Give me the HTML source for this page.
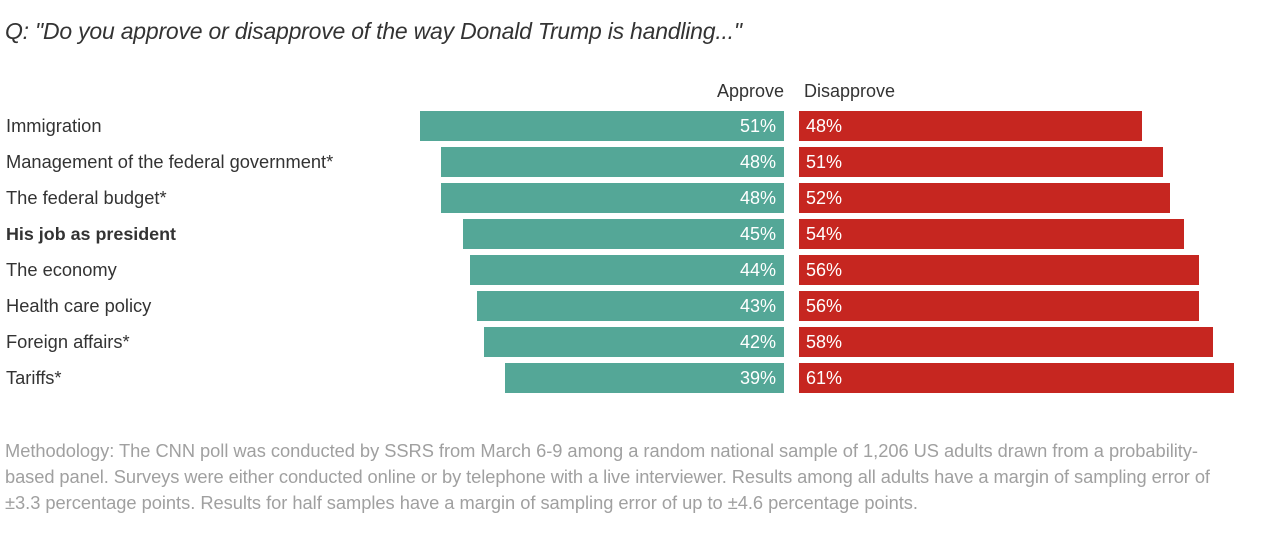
<!DOCTYPE html>
<html lang="en">
<head>
<meta charset="utf-8">
<title>Trump approval by issue</title>
<style>
html,body{margin:0;padding:0;background:#fff;width:1275px;height:541px;overflow:hidden}
svg{display:block;font-family:"Liberation Sans",sans-serif}
.lab{font-size:18.3px;fill:#333}
.head{font-size:18px;fill:#333}
.val{font-size:18px;fill:#fff}
.note{font-size:18.3px;fill:#a0a0a0}
</style>
</head>
<body>
<svg id="chart" width="1275" height="541" viewBox="0 0 1275 541" xmlns="http://www.w3.org/2000/svg">
<text x="5" y="39" font-size="23px" font-style="italic" fill="#333" textLength="737" lengthAdjust="spacing">Q: "Do you approve or disapprove of the way Donald Trump is handling..."</text>
<text class="head" x="784" y="97" text-anchor="end">Approve</text>
<text class="head" x="804" y="97">Disapprove</text>
<g id="rows"></g>
<text class="note" x="5" y="457" textLength="1193" lengthAdjust="spacing">Methodology: The CNN poll was conducted by SSRS from March 6-9 among a random national sample of 1,206 US adults drawn from a probability-</text>
<text class="note" x="5" y="483" textLength="1205" lengthAdjust="spacing">based panel. Surveys were either conducted online or by telephone with a live interviewer. Results among all adults have a margin of sampling error of</text>
<text class="note" x="5" y="509" textLength="913" lengthAdjust="spacing">±3.3 percentage points. Results for half samples have a margin of sampling error of up to ±4.6 percentage points.</text>
</svg>
<script>
const categories = ["Immigration","Management of the federal government*","The federal budget*","His job as president","The economy","Health care policy","Foreign affairs*","Tariffs*"];
const approve = [51,48,48,45,44,43,42,39];
const disapprove = [48,51,52,54,56,56,58,61];
const emphasized = ["His job as president"];

const NS = "http://www.w3.org/2000/svg";
const rows = document.getElementById("rows");
const unit = 7.14;
const approveBase = 784;
const disapproveBase = 799;
const rowTop = i => 111 + i * 36;
const approveLength = v => Math.round(v * unit + 0.1);
const disapproveLength = v => Math.round(v * unit - 0.1);

function make(tag, attrs, text) {
  const el = document.createElementNS(NS, tag);
  for (const k in attrs) el.setAttribute(k, attrs[k]);
  if (text !== undefined) el.textContent = text;
  rows.appendChild(el);
  return el;
}

categories.forEach((name, i) => {
  const y = rowTop(i);
  const bold = emphasized.includes(name);

  const label = make("text", {class: "lab", x: 6, y: y + 21, "font-weight": bold ? "bold" : "normal"}, name);
  if (bold) label.style.fontSize = "17.9px";
  
  

  const aw = approveLength(approve[i]);
  const aBar = make("rect", {x: approveBase - aw, y: y, width: aw, height: 30, fill: "#54a797"});
  
  

  const aVal = make("text", {class: "val", x: approveBase - 8, y: y + 21, "text-anchor": "end"}, approve[i] + "%");
  
  

  const dw = disapproveLength(disapprove[i]);
  const dBar = make("rect", {x: disapproveBase, y: y, width: dw, height: 30, fill: "#c62620"});
  
  

  const dVal = make("text", {class: "val", x: disapproveBase + 7, y: y + 21}, disapprove[i] + "%");
  
  
});
</script>
</body>
</html>
